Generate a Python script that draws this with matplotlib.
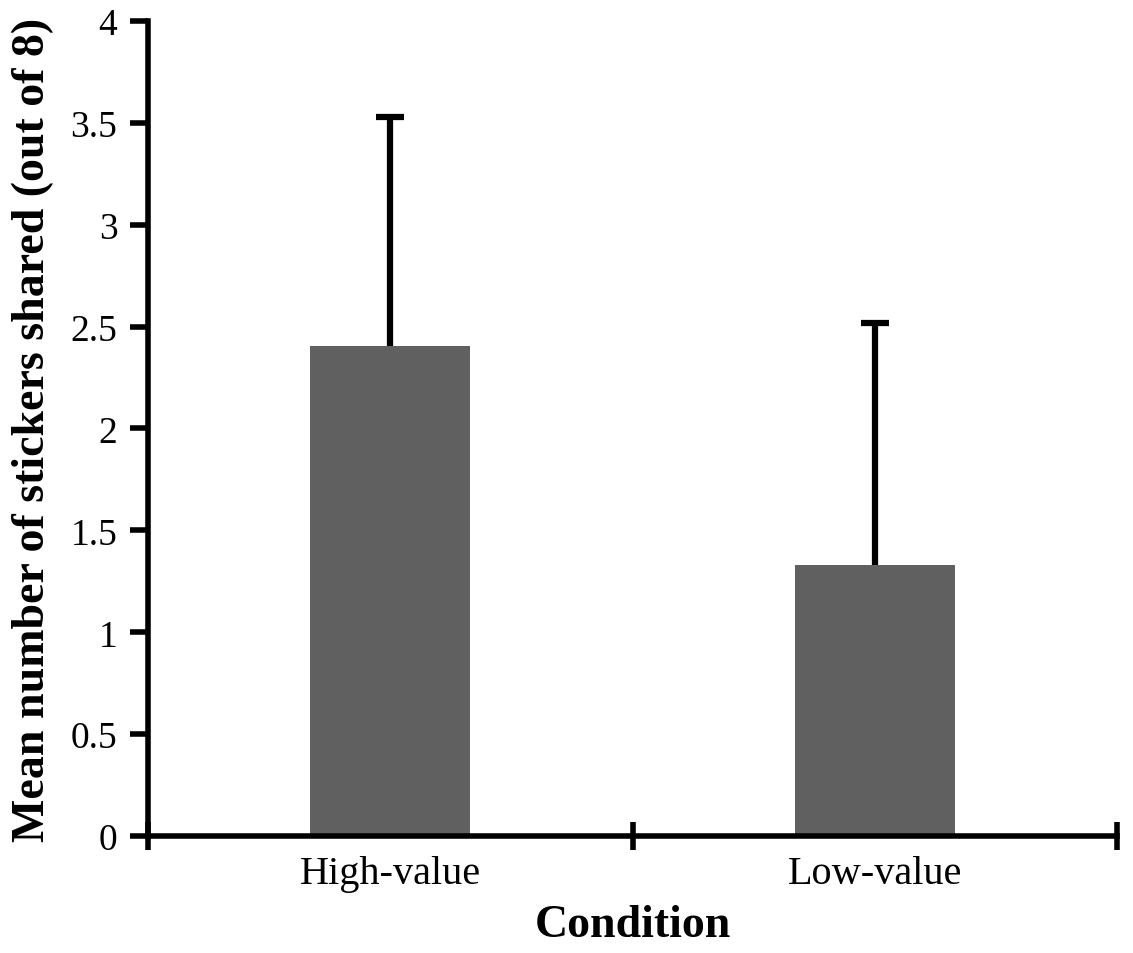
import matplotlib
matplotlib.use("Agg")
import matplotlib.pyplot as plt
import numpy as np

conditions = ["High-value", "Low-value"]
means = [2.405, 1.33]
errors = [1.125, 1.19]

plt.rcParams["font.family"] = ["Liberation Serif", "DejaVu Serif"]

fig = plt.figure(figsize=(11.33, 9.54), dpi=100)
ax = fig.add_axes([0.1306, 0.1226, 0.8554, 0.8544])

x = np.arange(len(conditions)) + 0.5
tops = np.array(means) + np.array(errors)

# one-sided (upper) error bars, drawn behind the bars
ax.vlines(x, means, tops, color="black", linewidth=4.5, zorder=1)
ax.plot(x, tops, linestyle="none", marker="_", markersize=20,
        markeredgewidth=4.5, color="black", zorder=1)
ax.bar(x, means, width=0.33, color="#606060", zorder=2)

ax.set_xlim(0, 2)
ax.set_ylim(0, 4)
ax.set_yticks(np.arange(0, 4.01, 0.5))
ax.set_yticklabels(["0", "0.5", "1", "1.5", "2", "2.5", "3", "3.5", "4"])
ax.set_xticks([0, 1, 2])
ax.set_xticklabels([])
ax.set_xticks(x, minor=True)
ax.set_xticklabels(conditions, minor=True)
ax.tick_params(axis="x", which="minor", length=0, labelsize=29, pad=14)
ax.tick_params(axis="x", which="major", direction="inout", length=20, width=4)
ax.tick_params(axis="y", direction="out", length=13, width=4, labelsize=27, pad=9)

for side in ["top", "right"]:
    ax.spines[side].set_visible(False)
for side in ["left", "bottom"]:
    ax.spines[side].set_linewidth(4)

ax.set_xlabel("Condition", fontsize=33, fontweight="bold", labelpad=8)
ax.set_ylabel("Mean number of stickers shared (out of 8)", fontsize=33,
              fontweight="bold", labelpad=12)

fig.savefig("out.png", dpi=100, facecolor="white")
